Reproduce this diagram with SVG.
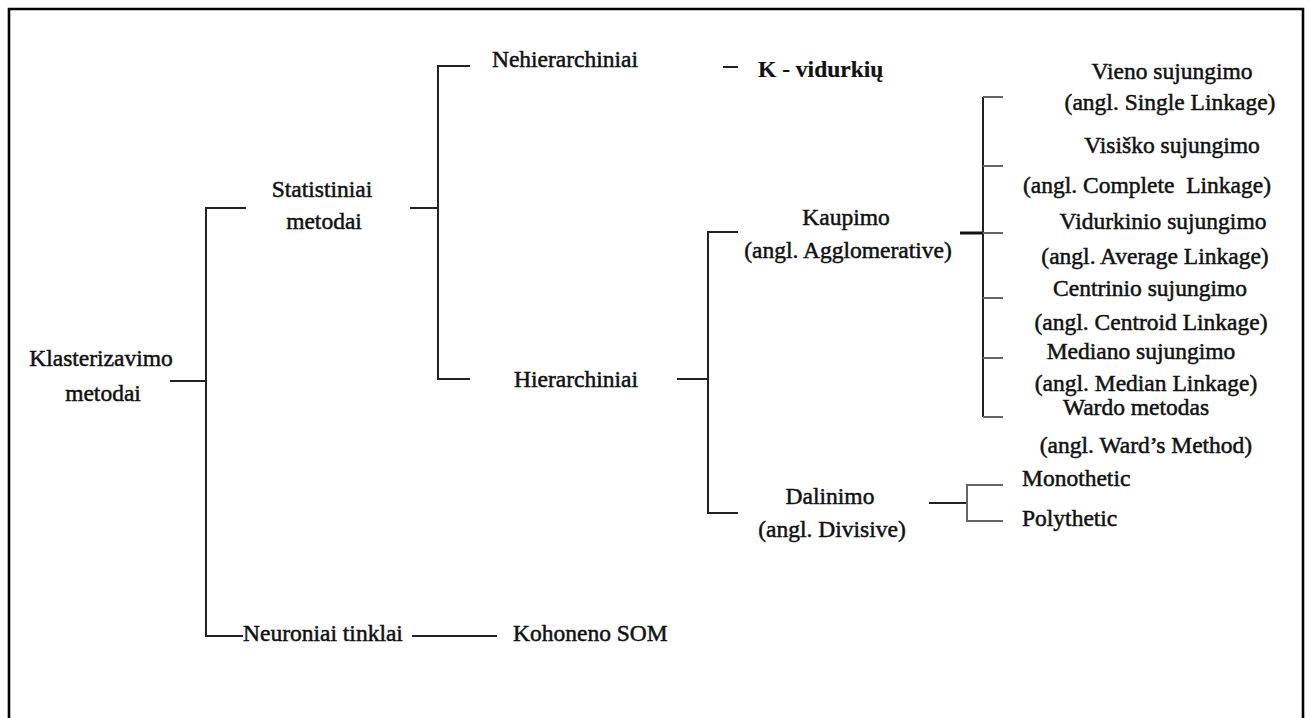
<svg xmlns="http://www.w3.org/2000/svg" width="1309" height="718" viewBox="0 0 1309 718">
  <style>
    text { font-family: "Liberation Serif", "Times New Roman", serif; font-size: 23.5px; fill: #111; stroke: #111; stroke-width: 0.5; }
    .c { text-anchor: middle; }
    .b { font-weight: bold; stroke-width: 0.2; }
    .ln { stroke: #222; stroke-width: 2; fill: none; }
    .tk { stroke: #666; stroke-width: 2; fill: none; }
    .hv { stroke: #111; stroke-width: 3; fill: none; }
    .frame { stroke: #000; stroke-width: 2.6; fill: none; }
  </style>

  <rect width="1309" height="718" fill="#fff"/>
  <!-- outer frame, open at the bottom -->
  <path class="frame" d="M9,740 V9 H1303 V740"/>

  <g id="connectors">
    <!-- root -->
    <path class="ln" d="M170,381 H206"/>
    <path class="ln" d="M246,208 H206 V636 H243"/>
    <!-- statistical methods -->
    <path class="ln" d="M410,208 H438"/>
    <path class="ln" d="M470,66 H438 V379 H470"/>
    <path class="ln" d="M723,67 H738"/>
    <!-- neural networks -->
    <path class="ln" d="M412,636 H497"/>
    <!-- hierarchical -->
    <path class="ln" d="M677,379 H708"/>
    <path class="ln" d="M738,232 H708 V513 H738"/>
    <!-- agglomerative linkages -->
    <path class="hv" d="M960,233 H983"/>
    <path class="ln" d="M983,97 V417"/>
    <path class="tk" d="M983,97 H1003 M983,166 H1003 M983,233 H1003 M983,298 H1003 M983,358 H1003 M983,417 H1003"/>
    <!-- divisive -->
    <path class="ln" d="M929,503 H967"/>
    <path class="tk" d="M1003,485 H967 V521 H1003"/>
  </g>

  <g id="root">
    <text class="c" x="101" y="366">Klasterizavimo</text>
    <text class="c" x="103" y="401">metodai</text>
  </g>
  <g id="statistical">
    <text class="c" x="322" y="197">Statistiniai</text>
    <text class="c" x="324" y="229">metodai</text>
  </g>
  <g id="nonhierarchical">
    <text class="c" x="565" y="67">Nehierarchiniai</text>
  </g>
  <g id="kmeans">
    <text class="b" x="758" y="77">K - vidurkių</text>
  </g>
  <g id="hierarchical">
    <text class="c" x="576" y="387">Hierarchiniai</text>
  </g>
  <g id="agglomerative">
    <text class="c" x="846" y="225">Kaupimo</text>
    <text class="c" x="848" y="258">(angl. Agglomerative)</text>
  </g>
  <g id="divisive">
    <text class="c" x="830" y="504">Dalinimo</text>
    <text class="c" x="832" y="537">(angl. Divisive)</text>
  </g>
  <g id="single">
    <text class="c" x="1172" y="79">Vieno sujungimo</text>
    <text class="c" x="1170" y="110">(angl. Single Linkage)</text>
  </g>
  <g id="complete">
    <text class="c" x="1172" y="153">Visiško sujungimo</text>
    <text class="c" x="1147" y="193" xml:space="preserve">(angl. Complete  Linkage)</text>
  </g>
  <g id="average">
    <text class="c" x="1163" y="229">Vidurkinio sujungimo</text>
    <text class="c" x="1155" y="264">(angl. Average Linkage)</text>
  </g>
  <g id="centroid">
    <text class="c" x="1150" y="296">Centrinio sujungimo</text>
    <text class="c" x="1151" y="330">(angl. Centroid Linkage)</text>
  </g>
  <g id="median">
    <text class="c" x="1141" y="359">Mediano sujungimo</text>
    <text class="c" x="1146" y="391">(angl. Median Linkage)</text>
  </g>
  <g id="ward">
    <text class="c" x="1136" y="415">Wardo metodas</text>
    <text class="c" x="1146" y="453">(angl. Ward’s Method)</text>
  </g>
  <g id="monothetic">
    <text x="1022" y="486">Monothetic</text>
  </g>
  <g id="polythetic">
    <text x="1022" y="526">Polythetic</text>
  </g>
  <g id="neural">
    <text x="243" y="641">Neuroniai tinklai</text>
  </g>
  <g id="som">
    <text x="513" y="641">Kohoneno SOM</text>
  </g>
</svg>
